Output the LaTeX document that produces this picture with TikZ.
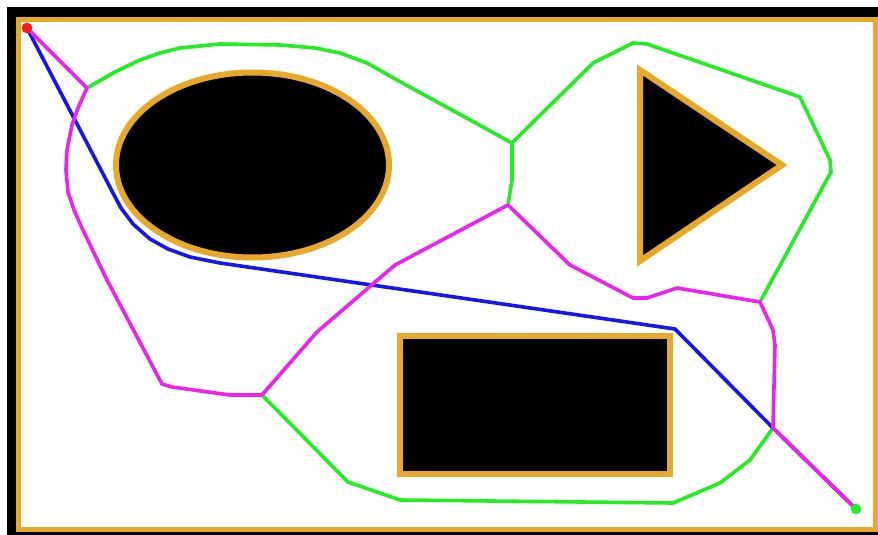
\documentclass[tikz,border=0pt]{standalone}
\begin{document}
\begin{tikzpicture}[x=0.75pt,y=-0.75pt,
  obstacle/.style={draw=obstc,fill=black,line width=4.5pt,line join=miter},
  gpath/.style={draw=grn,line width=2.7pt,line join=round,line cap=round},
  mpath/.style={draw=mag,line width=2.7pt,line join=round,line cap=round},
  bpath/.style={draw=blu,line width=2.7pt,line join=round,line cap=round}]
\definecolor{obstc}{HTML}{E8A92A}
\definecolor{grn}{HTML}{22EE22}
\definecolor{mag}{HTML}{EE22EE}
\definecolor{blu}{HTML}{1515EE}
\definecolor{redd}{HTML}{FF1A1A}
\useasboundingbox (0,0) rectangle (878,535);
% frame
\fill[white] (0,0) rectangle (878,535);
\fill[black] (7,7) rectangle (878,535);
\draw[draw=obstc,fill=white,line width=3.75pt] (18.5,19.5) rectangle (875,529.5);
% obstacles
\draw[obstacle] (252.5,165) ellipse [x radius=136.5, y radius=92.5];
\draw[obstacle] (640,70) -- (782,165) -- (640,261) -- cycle;
\draw[obstacle] (400,336) rectangle (670,474);
% junction coordinates
\coordinate (S) at (27,28);
\coordinate (G) at (856,509);
\coordinate (J1) at (87,88);
\coordinate (J2) at (512,143);
\coordinate (J3) at (508,205);
\coordinate (J4) at (760,302);
\coordinate (J5) at (262,395);
\coordinate (J6) at (773,428);
% green paths
\draw[gpath] (J1) -- (115,72) -- (140,60) -- (160,53) -- (180,48) -- (220,44) -- (280,45) -- (315,48) -- (340,53) -- (367,63) -- (397,80) -- (483,127) -- (J2);
\draw[gpath] (J2) -- (512,180) -- (J3);
\draw[gpath] (J2) -- (593,63) -- (633,43) -- (647,44) -- (800,97) -- (830,160) -- (831,172) -- (J4);
\draw[gpath] (J5) -- (348,482) -- (400,500) -- (673,503) -- (720,483) -- (750,460) -- (J6);
% blue path
\draw[bpath] (S) -- (113,193) -- (121,208) -- (133,224) -- (150,239) -- (168,249) -- (190,257) -- (220,263) -- (675,329) -- (J6) -- (G);
% magenta paths
\draw[mpath] (S) -- (J1) -- (78,108) -- (72,125) -- (67,150) -- (66,170) -- (68,192) -- (74,210) -- (82,228) -- (107,280) -- (162,384) -- (172,387) -- (230,395) -- (J5) -- (317,332) -- (395,265) -- (J3) -- (570,265) -- (633,298) -- (647,298) -- (677,288) -- (J4) -- (773,330) -- (775,345) -- (J6) -- (G);
% start and goal
\fill[redd] (S) circle (4pt);
\fill[grn] (G) circle (4pt);
\end{tikzpicture}
\end{document}
